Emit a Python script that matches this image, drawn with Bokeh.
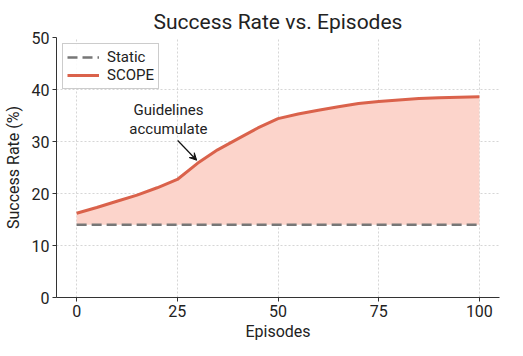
from bokeh.plotting import figure
from bokeh.models import Range1d, Label, Arrow, VeeHead, Legend, LegendItem, FixedTicker, Title
from bokeh.embed import file_html
from bokeh.resources import INLINE

episodes = [0, 5, 10, 15, 20, 25, 30, 35, 40, 45, 50, 55, 60, 65, 70, 75, 80, 85, 90, 95, 100]
scope = [16.2, 17.3, 18.5, 19.7, 21.1, 22.7, 25.8, 28.4, 30.5, 32.6, 34.4,
         35.3, 36.0, 36.7, 37.3, 37.7, 38.0, 38.25, 38.4, 38.5, 38.6]
static = [14.0] * len(episodes)
x_ticks = [0, 25, 50, 75, 100]
y_ticks = [0, 10, 20, 30, 40, 50]

FONT = "Roboto"

p = figure(width=507, height=340, output_backend="svg", toolbar_location=None,
           x_range=Range1d(-5, 105), y_range=Range1d(0, 50),
           title="Success Rate vs. Episodes",
           min_border_left=54, min_border_right=8, min_border_top=37, min_border_bottom=34)
p.outline_line_color = None
p.title.align = "center"
p.title.vertical_align = "top"
p.title.text_font = FONT
p.title.text_font_size = "21px"
p.title.text_font_style = "normal"
p.title.text_color = "#222222"
p.title.standoff = 4

p.varea(x=episodes, y1=static, y2=scope, fill_color="#fcd4cb", fill_alpha=1.0)
r_static = p.line(episodes, static, line_color="#777777", line_width=2.5, line_dash="10 5")
r_scope = p.line(episodes, scope, line_color="#da624b", line_width=3)

for ax in (p.xaxis[0], p.yaxis[0]):
    ax.axis_line_color = "#333333"
    ax.major_tick_line_color = "#333333"
    ax.major_tick_out = 4
    ax.major_tick_in = 0
    ax.minor_tick_line_color = None
    ax.major_label_text_font = FONT
    ax.major_label_text_font_size = "16px"
    ax.major_label_text_color = "#222222"
    ax.major_label_standoff = 3
    ax.axis_label_text_font = FONT
    ax.axis_label_text_font_size = "16px"
    ax.axis_label_text_font_style = "normal"
    ax.axis_label_text_color = "#222222"
p.xaxis.ticker = FixedTicker(ticks=x_ticks)
p.yaxis.ticker = FixedTicker(ticks=y_ticks)
p.yaxis.axis_label = "Success Rate (%)"
p.yaxis.axis_label_standoff = 6

xtitle = Title(text="Episodes", align="center", text_font=FONT, text_font_size="16px",
               text_font_style="normal", text_color="#222222", standoff=0, offset=0)
p.add_layout(xtitle, "below")

p.grid.grid_line_color = "#cccccc"
p.grid.grid_line_dash = "2 2"
p.grid.grid_line_alpha = 0.8

legend = Legend(items=[LegendItem(label="Static", renderers=[r_static]),
                       LegendItem(label="SCOPE", renderers=[r_scope])],
                location="top_left")
legend.label_text_font = FONT
legend.label_text_font_size = "15px"
legend.label_text_color = "#222222"
legend.border_line_color = "#cccccc"
legend.border_line_alpha = 1
legend.background_fill_alpha = 0.9
legend.margin = 6
legend.padding = 4
legend.spacing = 0
legend.glyph_width = 32
legend.glyph_height = 18
legend.label_height = 18
legend.label_standoff = 8
p.add_layout(legend, "center")

p.add_layout(Label(x=22.8, y=36.0, text="Guidelines", text_align="center", text_baseline="middle",
                   text_font=FONT, text_font_size="15px", text_color="#222222"))
p.add_layout(Label(x=22.8, y=32.5, text="accumulate", text_align="center", text_baseline="middle",
                   text_font=FONT, text_font_size="15px", text_color="#222222"))
p.add_layout(Arrow(x_start=25.1, y_start=30.2, x_end=29.8, y_end=26.4, line_color="#111111", line_width=1.2,
                   end=VeeHead(size=7, fill_color="#111111", line_color="#111111")))

open("out.html", "w").write(file_html(p, INLINE))
